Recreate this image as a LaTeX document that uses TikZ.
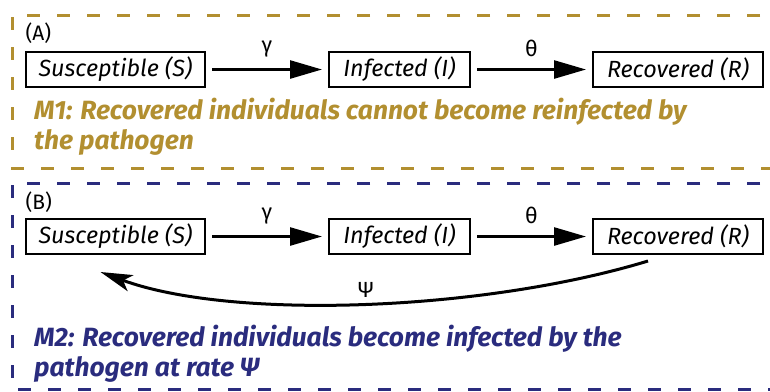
\documentclass[tikz,border=0pt]{standalone}
\usepackage{fontspec}
\setmainfont{Fira Sans}
\usetikzlibrary{arrows.meta,positioning}

\definecolor{mgold}{RGB}{178,143,48}
\definecolor{mblue}{RGB}{42,44,126}

\tikzset{
  compart/.style={draw,line width=2bp,minimum height=35bp,inner sep=0pt,
    font=\fontsize{23.5}{26}\selectfont\itshape},
  flow/.style={line width=2.6bp,shorten <=6bp,shorten >=6bp,
    -{Triangle[length=32bp,width=18bp]}},
  panel/.style={line width=3bp,dash pattern=on 13bp off 17bp},
  tag/.style={font=\fontsize{21}{24}\selectfont},
  rate/.style={font=\fontsize{22}{24}\selectfont},
  model/.style={align=left,inner sep=0pt,font=\fontsize{26.5}{30}\selectfont\bfseries\itshape},
}

\begin{document}
\begin{tikzpicture}[x=1bp,y=-1bp]
\clip (0,0) rectangle (770,391);
\fill[white] (0,0) rectangle (770,391);

% panel A
\draw[panel,mgold] (790,15) -- (12,15) -- (12,168) -- (790,168);
\node[tag,anchor=west] (labA) at (22,33) {(A)};
\node[compart,minimum width=179bp] (sA) at (115.5,69.5) {Susceptible (S)};
\node[compart,minimum width=141bp] (iA) at (399.5,69.5) {Infected (I)};
\node[compart,minimum width=170bp] (rA) at (678,69.5) {Recovered (R)};
\draw[flow] (sA) -- node[rate,midway,above=8bp] {γ} (iA);
\draw[flow] (iA) -- node[rate,midway,above=8bp] {θ} (rA);
\node[model,text=mgold,anchor=north west] (mA) at (34,98)
  {M1: Recovered individuals cannot become reinfected by\\the pathogen};

% panel B
\draw[panel,mblue] (790,183) -- (12,183) -- (12,389) -- (790,389);
\node[tag,anchor=west] (labB) at (22,202) {(B)};
\node[compart,minimum width=179bp] (sB) at (115.5,236.5) {Susceptible (S)};
\node[compart,minimum width=141bp] (iB) at (399.5,236.5) {Infected (I)};
\node[compart,minimum width=170bp] (rB) at (678,236.5) {Recovered (R)};
\draw[flow] (sB) -- node[rate,midway,above=8bp] {γ} (iB);
\draw[flow] (iB) -- node[rate,midway,above=8bp] {θ} (rB);
\coordinate (psiA) at ([xshift=-30bp,yshift=-6bp]rB.south);
\coordinate (psiB) at ([xshift=-15bp,yshift=-17bp]sB.south);
\draw[line width=3bp,-{Stealth[length=32bp,width=17bp,inset=8bp]}]
  (psiA) .. controls (480,312) and (230,320) .. (psiB)
  node[rate,pos=0.49,above=1bp] (psi) {Ψ};
\node[model,text=mblue,anchor=north west] (mB) at (34,325)
  {M2: Recovered individuals become infected by the\\pathogen at rate Ψ};
\end{tikzpicture}
\end{document}
